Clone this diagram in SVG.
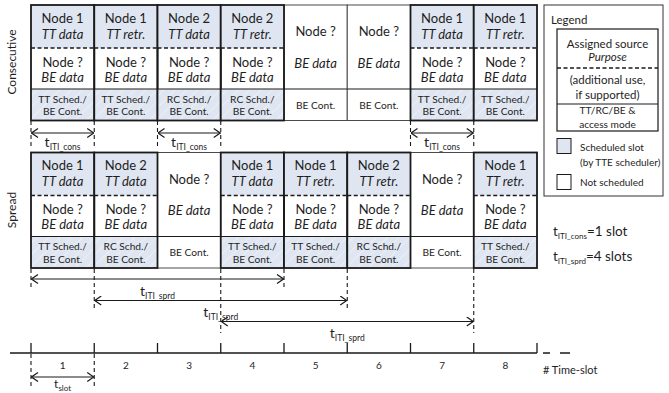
<svg xmlns="http://www.w3.org/2000/svg" width="669" height="393" viewBox="0 0 669 393">
<style>
text{font-family:Lato,"Liberation Sans",sans-serif;fill:#1e1e1e}
.n{font-size:13px;text-anchor:middle}
.it{font-style:italic}
.sm{font-size:10.2px;text-anchor:middle}
.blue{fill:#dfe6f1}
.sb{fill:none;stroke:#1a1a1a;stroke-width:1.8}
.ub{fill:#fff;stroke:#4a4a4a;stroke-width:1}
.dv{stroke:#1a1a1a;stroke-width:1.2}
.dh{stroke:#1a1a1a;stroke-width:1.3;stroke-dasharray:4 2.5}
.tick{stroke:#1a1a1a;stroke-width:1.1;stroke-dasharray:4 3}
.arr{stroke:#1a1a1a;stroke-width:1.2;fill:none;marker-start:url(#ah);marker-end:url(#ah)}
.lg{font-size:11.5px;text-anchor:middle}
.sub{font-size:8.5px}
</style>
<defs>
<pattern id="hatch" width="8" height="8" patternUnits="userSpaceOnUse" patternTransform="rotate(45)">
<rect width="8" height="8" fill="#dfe6f1"/>
<line x1="0" y1="0" x2="0" y2="8" stroke="#eef2f8" stroke-width="1.6"/>
</pattern>
<marker id="ah" viewBox="0 0 8 10" refX="7.5" refY="5" markerWidth="8" markerHeight="10" markerUnits="userSpaceOnUse" orient="auto-start-reverse">
<path d="M1,0.5 L7.5,5 L1,9.5" fill="none" stroke="#1a1a1a" stroke-width="1.2"/>
</marker>
</defs>
<rect width="669" height="393" fill="#fff"/>

<text transform="translate(16,62) rotate(-90)" font-size="12" text-anchor="middle">Consecutive</text>
<text transform="translate(16,210) rotate(-90)" font-size="12" text-anchor="middle">Spread</text>

<!-- Consecutive row -->
<g id="c5" transform="translate(284,5)">
<rect class="ub" width="63.25" height="115.5"/><line class="dv" x1="0" y1="84" x2="63.25" y2="84" stroke-width="1"/>
<text class="n" x="31.6" y="31">Node ?</text><text class="n it" x="31.6" y="62.5">BE data</text><text class="sm" x="31.6" y="103.5">BE Cont.</text>
</g>
<g id="c6" transform="translate(347.25,5)">
<rect class="ub" width="63.25" height="115.5"/><line class="dv" x1="0" y1="84" x2="63.25" y2="84" stroke-width="1"/>
<text class="n" x="31.6" y="31">Node ?</text><text class="n it" x="31.6" y="62.5">BE data</text><text class="sm" x="31.6" y="103.5">BE Cont.</text>
</g>
<g id="c1" transform="translate(31,5)">
<rect class="blue" width="63.25" height="43"/><rect fill="url(#hatch)" y="84" width="63.25" height="31.5"/>
<line class="dh" x1="0" y1="43" x2="63.25" y2="43"/><line class="dv" x1="0" y1="84" x2="63.25" y2="84"/><rect class="sb" width="63.25" height="115.5"/>
<text class="n" x="31.6" y="17.5">Node 1</text><text class="n it" x="31.6" y="33.5">TT data</text>
<text class="n" x="31.6" y="61.5">Node ?</text><text class="n it" x="31.6" y="76.5">BE data</text>
<text class="sm" x="31.6" y="97.5">TT Sched./</text><text class="sm" x="31.6" y="110">BE Cont.</text>
</g>
<g id="c2" transform="translate(94.25,5)">
<rect class="blue" width="63.25" height="43"/><rect fill="url(#hatch)" y="84" width="63.25" height="31.5"/>
<line class="dh" x1="0" y1="43" x2="63.25" y2="43"/><line class="dv" x1="0" y1="84" x2="63.25" y2="84"/><rect class="sb" width="63.25" height="115.5"/>
<text class="n" x="31.6" y="17.5">Node 1</text><text class="n it" x="31.6" y="33.5">TT retr.</text>
<text class="n" x="31.6" y="61.5">Node ?</text><text class="n it" x="31.6" y="76.5">BE data</text>
<text class="sm" x="31.6" y="97.5">TT Sched./</text><text class="sm" x="31.6" y="110">BE Cont.</text>
</g>
<g id="c3" transform="translate(157.5,5)">
<rect class="blue" width="63.25" height="43"/><rect fill="url(#hatch)" y="84" width="63.25" height="31.5"/>
<line class="dh" x1="0" y1="43" x2="63.25" y2="43"/><line class="dv" x1="0" y1="84" x2="63.25" y2="84"/><rect class="sb" width="63.25" height="115.5"/>
<text class="n" x="31.6" y="17.5">Node 2</text><text class="n it" x="31.6" y="33.5">TT data</text>
<text class="n" x="31.6" y="61.5">Node ?</text><text class="n it" x="31.6" y="76.5">BE data</text>
<text class="sm" x="31.6" y="97.5">RC Schd./</text><text class="sm" x="31.6" y="110">BE Cont.</text>
</g>
<g id="c4" transform="translate(220.75,5)">
<rect class="blue" width="63.25" height="43"/><rect fill="url(#hatch)" y="84" width="63.25" height="31.5"/>
<line class="dh" x1="0" y1="43" x2="63.25" y2="43"/><line class="dv" x1="0" y1="84" x2="63.25" y2="84"/><rect class="sb" width="63.25" height="115.5"/>
<text class="n" x="31.6" y="17.5">Node 2</text><text class="n it" x="31.6" y="33.5">TT retr.</text>
<text class="n" x="31.6" y="61.5">Node ?</text><text class="n it" x="31.6" y="76.5">BE data</text>
<text class="sm" x="31.6" y="97.5">RC Schd./</text><text class="sm" x="31.6" y="110">BE Cont.</text>
</g>
<g id="c7" transform="translate(410.5,5)">
<rect class="blue" width="63.25" height="43"/><rect fill="url(#hatch)" y="84" width="63.25" height="31.5"/>
<line class="dh" x1="0" y1="43" x2="63.25" y2="43"/><line class="dv" x1="0" y1="84" x2="63.25" y2="84"/><rect class="sb" width="63.25" height="115.5"/>
<text class="n" x="31.6" y="17.5">Node 1</text><text class="n it" x="31.6" y="33.5">TT data</text>
<text class="n" x="31.6" y="61.5">Node ?</text><text class="n it" x="31.6" y="76.5">BE data</text>
<text class="sm" x="31.6" y="97.5">TT Sched./</text><text class="sm" x="31.6" y="110">BE Cont.</text>
</g>
<g id="c8" transform="translate(473.75,5)">
<rect class="blue" width="63.25" height="43"/><rect fill="url(#hatch)" y="84" width="63.25" height="31.5"/>
<line class="dh" x1="0" y1="43" x2="63.25" y2="43"/><line class="dv" x1="0" y1="84" x2="63.25" y2="84"/><rect class="sb" width="63.25" height="115.5"/>
<text class="n" x="31.6" y="17.5">Node 1</text><text class="n it" x="31.6" y="33.5">TT retr.</text>
<text class="n" x="31.6" y="61.5">Node ?</text><text class="n it" x="31.6" y="76.5">BE data</text>
<text class="sm" x="31.6" y="97.5">TT Sched./</text><text class="sm" x="31.6" y="110">BE Cont.</text>
</g>

<!-- Spread row -->
<g id="s3" transform="translate(157.5,152.5)">
<rect class="ub" width="63.25" height="115.5"/><line class="dv" x1="0" y1="84" x2="63.25" y2="84" stroke-width="1"/>
<text class="n" x="31.6" y="31">Node ?</text><text class="n it" x="31.6" y="62.5">BE data</text><text class="sm" x="31.6" y="103.5">BE Cont.</text>
</g>
<g id="s7" transform="translate(410.5,152.5)">
<rect class="ub" width="63.25" height="115.5"/><line class="dv" x1="0" y1="84" x2="63.25" y2="84" stroke-width="1"/>
<text class="n" x="31.6" y="31">Node ?</text><text class="n it" x="31.6" y="62.5">BE data</text><text class="sm" x="31.6" y="103.5">BE Cont.</text>
</g>
<g id="s1" transform="translate(31,152.5)">
<rect class="blue" width="63.25" height="43"/><rect fill="url(#hatch)" y="84" width="63.25" height="31.5"/>
<line class="dh" x1="0" y1="43" x2="63.25" y2="43"/><line class="dv" x1="0" y1="84" x2="63.25" y2="84"/><rect class="sb" width="63.25" height="115.5"/>
<text class="n" x="31.6" y="17.5">Node 1</text><text class="n it" x="31.6" y="33.5">TT data</text>
<text class="n" x="31.6" y="61.5">Node ?</text><text class="n it" x="31.6" y="76.5">BE data</text>
<text class="sm" x="31.6" y="97.5">TT Sched./</text><text class="sm" x="31.6" y="110">BE Cont.</text>
</g>
<g id="s2" transform="translate(94.25,152.5)">
<rect class="blue" width="63.25" height="43"/><rect fill="url(#hatch)" y="84" width="63.25" height="31.5"/>
<line class="dh" x1="0" y1="43" x2="63.25" y2="43"/><line class="dv" x1="0" y1="84" x2="63.25" y2="84"/><rect class="sb" width="63.25" height="115.5"/>
<text class="n" x="31.6" y="17.5">Node 2</text><text class="n it" x="31.6" y="33.5">TT data</text>
<text class="n" x="31.6" y="61.5">Node ?</text><text class="n it" x="31.6" y="76.5">BE data</text>
<text class="sm" x="31.6" y="97.5">RC Schd./</text><text class="sm" x="31.6" y="110">BE Cont.</text>
</g>
<g id="s4" transform="translate(220.75,152.5)">
<rect class="blue" width="63.25" height="43"/><rect fill="url(#hatch)" y="84" width="63.25" height="31.5"/>
<line class="dh" x1="0" y1="43" x2="63.25" y2="43"/><line class="dv" x1="0" y1="84" x2="63.25" y2="84"/><rect class="sb" width="63.25" height="115.5"/>
<text class="n" x="31.6" y="17.5">Node 1</text><text class="n it" x="31.6" y="33.5">TT data</text>
<text class="n" x="31.6" y="61.5">Node ?</text><text class="n it" x="31.6" y="76.5">BE data</text>
<text class="sm" x="31.6" y="97.5">TT Sched./</text><text class="sm" x="31.6" y="110">BE Cont.</text>
</g>
<g id="s5" transform="translate(284,152.5)">
<rect class="blue" width="63.25" height="43"/><rect fill="url(#hatch)" y="84" width="63.25" height="31.5"/>
<line class="dh" x1="0" y1="43" x2="63.25" y2="43"/><line class="dv" x1="0" y1="84" x2="63.25" y2="84"/><rect class="sb" width="63.25" height="115.5"/>
<text class="n" x="31.6" y="17.5">Node 1</text><text class="n it" x="31.6" y="33.5">TT retr.</text>
<text class="n" x="31.6" y="61.5">Node ?</text><text class="n it" x="31.6" y="76.5">BE data</text>
<text class="sm" x="31.6" y="97.5">TT Sched./</text><text class="sm" x="31.6" y="110">BE Cont.</text>
</g>
<g id="s6" transform="translate(347.25,152.5)">
<rect class="blue" width="63.25" height="43"/><rect fill="url(#hatch)" y="84" width="63.25" height="31.5"/>
<line class="dh" x1="0" y1="43" x2="63.25" y2="43"/><line class="dv" x1="0" y1="84" x2="63.25" y2="84"/><rect class="sb" width="63.25" height="115.5"/>
<text class="n" x="31.6" y="17.5">Node 2</text><text class="n it" x="31.6" y="33.5">TT retr.</text>
<text class="n" x="31.6" y="61.5">Node ?</text><text class="n it" x="31.6" y="76.5">BE data</text>
<text class="sm" x="31.6" y="97.5">RC Schd./</text><text class="sm" x="31.6" y="110">BE Cont.</text>
</g>
<g id="s8" transform="translate(473.75,152.5)">
<rect class="blue" width="63.25" height="43"/><rect fill="url(#hatch)" y="84" width="63.25" height="31.5"/>
<line class="dh" x1="0" y1="43" x2="63.25" y2="43"/><line class="dv" x1="0" y1="84" x2="63.25" y2="84"/><rect class="sb" width="63.25" height="115.5"/>
<text class="n" x="31.6" y="17.5">Node 1</text><text class="n it" x="31.6" y="33.5">TT retr.</text>
<text class="n" x="31.6" y="61.5">Node ?</text><text class="n it" x="31.6" y="76.5">BE data</text>
<text class="sm" x="31.6" y="97.5">TT Sched./</text><text class="sm" x="31.6" y="110">BE Cont.</text>
</g>

<!-- Connectors / intervals -->
<g id="connectors">
<path class="tick" d="M31,121 V148 M94.25,121 V148 M157.5,121 V148 M220.75,121 V148 M410.5,121 V148 M473.75,121 V148"/>
<path class="arr" d="M31.5,133 H93.75"/>
<path class="arr" d="M158,133 H220.25"/>
<path class="arr" d="M411,133 H473.25"/>
<path class="tick" d="M31,269 V290 M284,269 V290 M94.25,269 V311 M347.25,269 V311 M220.75,269 V333 M473.75,269 V333"/>
<path class="arr" d="M31.5,279 H283.5"/>
<path class="arr" d="M94.75,300.5 H346.75"/>
<path class="arr" d="M221.25,321.5 H473.25"/>
<path class="tick" d="M31,354 V389 M94.25,354 V389"/>
<path class="arr" d="M31.5,377 H93.75"/>
</g>

<g id="labels">
<text x="62.6" y="147" font-size="14" text-anchor="middle">t<tspan class="sub" dy="2.5">ITI_cons</tspan></text>
<text x="189.1" y="147" font-size="14" text-anchor="middle">t<tspan class="sub" dy="2.5">ITI_cons</tspan></text>
<text x="442.1" y="147" font-size="14" text-anchor="middle">t<tspan class="sub" dy="2.5">ITI_cons</tspan></text>
<text x="157.5" y="296" font-size="14" text-anchor="middle">t<tspan class="sub" dy="2.5">ITI_sprd</tspan></text>
<text x="220.75" y="317" font-size="14" text-anchor="middle">t<tspan class="sub" dy="2.5">ITI_sprd</tspan></text>
<text x="347.25" y="338" font-size="14" text-anchor="middle">t<tspan class="sub" dy="2.5">ITI_sprd</tspan></text>
<text x="62.6" y="388" font-size="12" text-anchor="middle">t<tspan font-size="8" dy="2.5">slot</tspan></text>
</g>

<!-- Timeline -->
<g id="timeline">
<path d="M10,353 H537 M543,353 H550 M560,353 H570" stroke="#1a1a1a" stroke-width="1.3" fill="none"/>
<path d="M31,343 V353 M94.25,343 V353 M157.5,343 V353 M220.75,343 V353 M284,343 V353 M347.25,343 V353 M410.5,343 V353 M473.75,343 V353 M537,343 V353" stroke="#1a1a1a" stroke-width="1.3"/>
<g font-size="10" text-anchor="middle">
<text x="62.6" y="368.5">1</text><text x="125.9" y="368.5">2</text><text x="189.1" y="368.5">3</text><text x="252.4" y="368.5">4</text>
<text x="315.6" y="368.5">5</text><text x="378.9" y="368.5">6</text><text x="442.1" y="368.5">7</text><text x="505.4" y="368.5">8</text>
</g>
<text x="543" y="374" font-size="11">#&#160;Time-slot</text>
</g>

<!-- Legend -->
<g id="legend">
<rect x="544" y="5" width="119" height="191" fill="#fff" stroke="#333" stroke-width="1"/>
<text x="551" y="23.5" font-size="11.5">Legend</text>
<rect x="557" y="29" width="101" height="102" fill="#fff" stroke="#1a1a1a" stroke-width="1.2"/>
<line x1="557" y1="68" x2="658" y2="68" class="dh"/>
<line x1="557" y1="104" x2="658" y2="104" class="dv"/>
<text class="lg" x="607.5" y="47.5">Assigned source</text>
<text class="lg it" x="607.5" y="61">Purpose</text>
<text class="lg" x="607.5" y="84">(additional use,</text>
<text class="lg" x="607.5" y="98.5">if supported)</text>
<text class="sm" x="607.5" y="113.5">TT/RC/BE &amp;</text>
<text class="sm" x="607.5" y="127.5">access mode</text>
<rect x="557" y="138.5" width="14" height="15" class="blue" stroke="#1a1a1a" stroke-width="1"/>
<text x="580" y="150.5" font-size="10">Scheduled slot</text>
<text x="580" y="166" font-size="10">(by TTE scheduler)</text>
<rect x="557" y="174.5" width="14" height="15" fill="#fff" stroke="#1a1a1a" stroke-width="1"/>
<text x="580" y="185.5" font-size="10">Not scheduled</text>
</g>

<g id="params">
<text x="553" y="236" font-size="13.5">t<tspan font-size="8" dy="2.5">ITI_cons</tspan><tspan dy="-2.5">=1 slot</tspan></text>
<text x="553" y="261" font-size="13.5">t<tspan font-size="8" dy="2.5">ITI_sprd</tspan><tspan dy="-2.5">=4 slots</tspan></text>
</g>
</svg>
